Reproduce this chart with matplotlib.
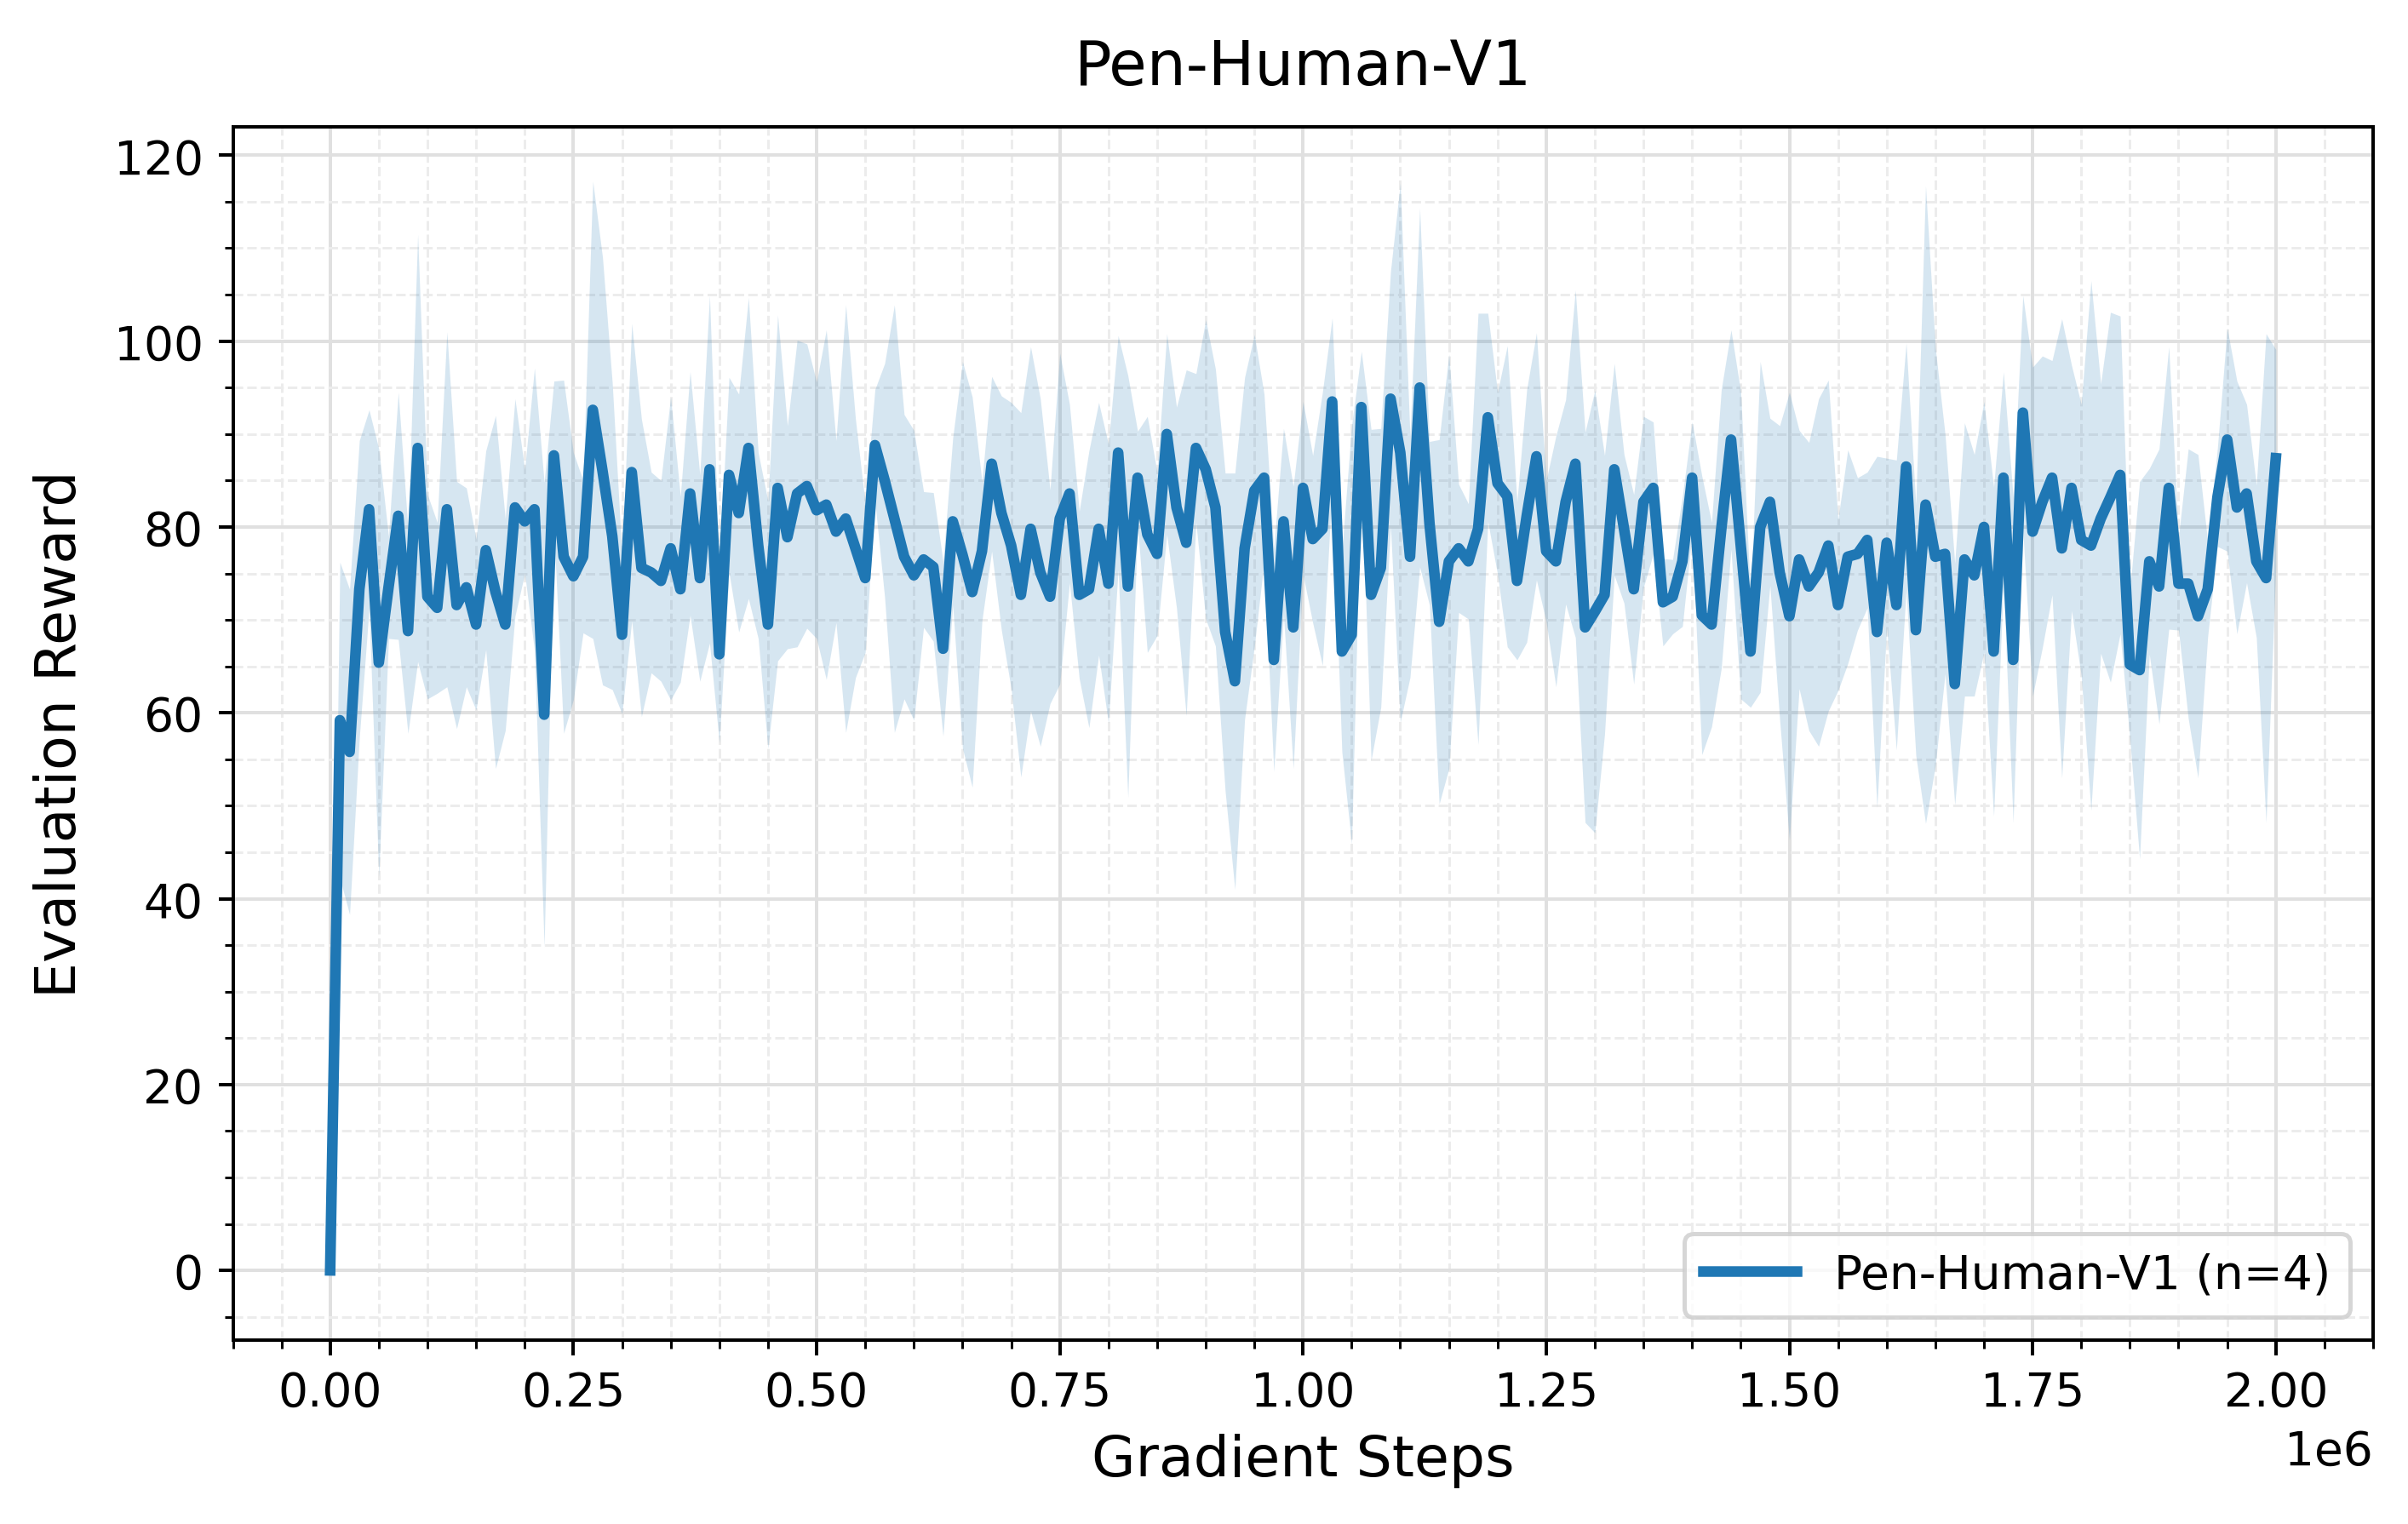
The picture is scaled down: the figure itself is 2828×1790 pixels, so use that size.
import numpy as np
import matplotlib
matplotlib.use("Agg")
import matplotlib.pyplot as plt
from matplotlib.ticker import AutoMinorLocator

title = "Pen-Human-V1"
legend_label = "Pen-Human-V1 (n=4)"
x_label = "Gradient Steps"
y_label = "Evaluation Reward"

steps = np.arange(0, 201) * 10000

mean_reward = [
    0, 59.2, 55.8, 73.3, 81.9, 65.4, 73.5, 81.2, 68.8, 88.5,
    72.5, 71.3, 81.9, 71.6, 73.5, 69.5, 77.5, 73.0, 69.5, 82.1,
    80.6, 81.9, 59.8, 87.7, 76.8, 74.7, 76.8, 92.6, 86.0, 79.0,
    68.4, 85.9, 75.6, 75.1, 74.2, 77.7, 73.3, 83.6, 74.5, 86.2,
    66.3, 85.6, 81.5, 88.5, 78.0, 69.5, 84.2, 78.9, 83.6, 84.4,
    81.8, 82.4, 79.5, 80.9, 77.7, 74.5, 88.8, 85.0, 80.9, 76.8,
    74.8, 76.5, 75.7, 66.9, 80.6, 77.0, 73.0, 77.4, 86.8, 81.5,
    78.0, 72.7, 79.8, 75.1, 72.5, 80.9, 83.6, 72.7, 73.3, 79.8,
    73.9, 88.0, 73.6, 85.3, 79.2, 77.1, 90.0, 82.1, 78.3, 88.5,
    86.2, 82.1, 68.7, 63.4, 77.7, 83.9, 85.3, 65.7, 80.6, 69.2,
    84.2, 78.7, 79.8, 93.5, 66.6, 68.4, 92.9, 72.7, 75.6, 93.8,
    88.0, 76.8, 95.0, 80.4, 69.8, 76.3, 77.7, 76.3, 79.8, 91.8,
    84.7, 83.3, 74.2, 81.2, 87.6, 77.4, 76.3, 82.7, 86.8, 69.2,
    70.9, 72.7, 86.2, 79.8, 73.3, 82.7, 84.2, 71.9, 72.5, 76.3,
    85.3, 70.5, 69.5, 79.8, 89.4, 78.0, 66.6, 80.0, 82.7, 75.1,
    70.4, 76.5, 73.6, 75.1, 78.0, 71.6, 76.8, 77.1, 78.6, 68.7,
    78.3, 71.6, 86.5, 68.9, 82.4, 76.8, 77.1, 63.1, 76.5, 74.8,
    80.0, 66.6, 85.3, 65.7, 92.3, 79.5, 82.7, 85.3, 77.7, 84.2,
    78.6, 78.0, 80.9, 83.2, 85.6, 65.2, 64.6, 76.3, 73.6, 84.2,
    73.9, 73.9, 70.4, 73.3, 83.2, 89.4, 82.1, 83.6, 76.3, 74.5,
    87.4,
]

std_reward = [
    0, 17.0, 17.5, 16.0, 10.7, 23.0, 5.5, 13.3, 11.0, 23.0,
    11.0, 9.2, 19.1, 13.3, 10.7, 9.2, 10.7, 19.0, 11.4, 11.7,
    5.6, 15.2, 25.0, 8.0, 19.0, 13.3, 8.2, 24.6, 23.0, 16.5,
    8.5, 16.0, 16.0, 10.8, 10.8, 16.3, 10.0, 13.1, 11.1, 18.7,
    9.5, 10.5, 12.8, 16.2, 10.0, 13.3, 18.6, 12.0, 16.5, 15.3,
    13.8, 18.8, 9.8, 23.0, 13.9, 8.0, 6.0, 12.6, 23.0, 15.3,
    15.6, 7.3, 8.0, 9.4, 9.0, 20.8, 21.0, 7.5, 9.4, 12.6,
    15.4, 19.6, 19.6, 18.7, 11.5, 17.8, 9.6, 9.0, 14.9, 13.6,
    15.0, 12.6, 22.7, 5.0, 12.7, 8.8, 10.8, 10.8, 18.6, 8.0,
    16.1, 14.9, 17.1, 22.4, 18.4, 16.8, 9.0, 12.0, 10.0, 15.2,
    9.3, 9.0, 14.7, 9.0, 10.8, 22.5, 6.0, 17.8, 15.0, 13.7,
    29.0, 13.0, 19.3, 8.8, 19.6, 22.3, 6.9, 6.2, 23.2, 11.2,
    9.8, 16.2, 8.5, 13.6, 13.3, 7.6, 13.5, 11.0, 18.7, 21.0,
    23.8, 15.0, 11.4, 8.0, 10.2, 9.2, 7.1, 4.7, 4.0, 7.0,
    6.0, 15.0, 11.0, 15.0, 11.8, 16.5, 6.0, 17.8, 9.0, 15.8,
    24.1, 13.9, 15.5, 18.7, 17.8, 9.2, 11.5, 8.2, 7.3, 18.9,
    9.1, 15.6, 13.3, 13.5, 34.3, 22.5, 12.9, 13.0, 14.7, 13.0,
    13.5, 17.7, 11.4, 17.5, 12.6, 17.7, 15.7, 12.6, 24.7, 13.2,
    14.6, 28.5, 14.5, 19.9, 17.1, 8.0, 20.3, 10.0, 14.8, 15.2,
    5.0, 14.5, 17.4, 5.1, 5.3, 12.0, 13.6, 9.6, 8.2, 26.3,
    11.7,
]

mean = np.array(mean_reward)
std = np.array(std_reward)

W, H, DPI = 2828, 1791, 360
fig = plt.figure(figsize=(W / DPI, H / DPI), dpi=DPI)
ax = fig.add_axes([273.5 / W, 1 - 1575 / H, (2787 - 273.5) / W, (1575 - 149.5) / H])

color = "#1f77b4"
ax.fill_between(steps, mean - std, mean + std, color=color, alpha=0.18, linewidth=0)
ax.plot(steps, mean, color=color, linewidth=2.5, label=legend_label)

ax.set_xlim(-0.1e6, 2.1e6)
ax.set_ylim(-7.5, 123.1)

ax.xaxis.set_minor_locator(AutoMinorLocator(5))
ax.yaxis.set_minor_locator(AutoMinorLocator(4))
ax.grid(which="major", color="#e0e0e0", linewidth=0.8)
ax.grid(which="minor", color="#ececec", linewidth=0.6, linestyle="--")
ax.set_axisbelow(True)

ax.tick_params(axis="both", which="major", labelsize=11)
ax.xaxis.get_offset_text().set_fontsize(11)
ax.set_xlabel(x_label, fontsize=13.3)
ax.set_ylabel(y_label, fontsize=13.3, labelpad=6)
ax.set_title(title, fontsize=14.5, pad=10)
ax.legend(loc="lower right", fontsize=11)

fig.savefig("out.png", dpi=DPI)
